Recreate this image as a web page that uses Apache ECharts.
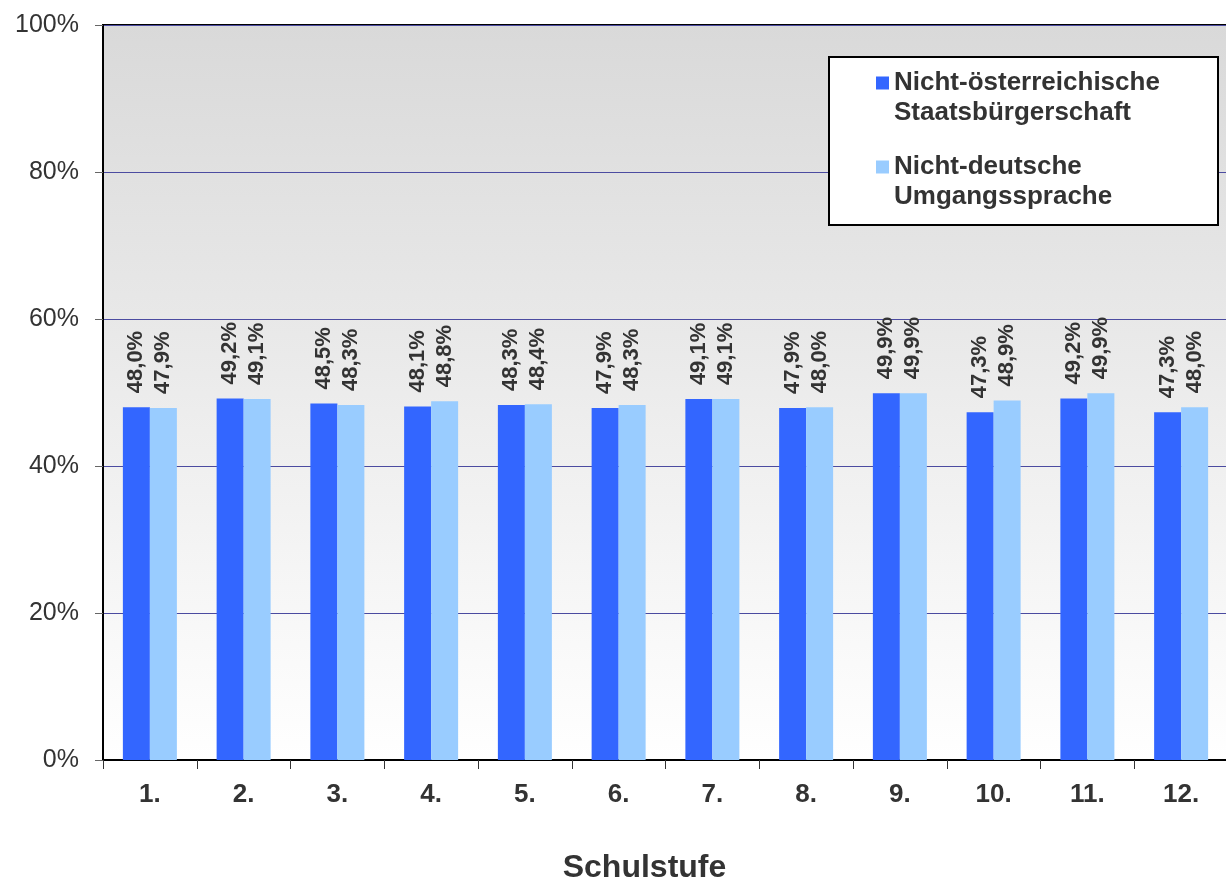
<!DOCTYPE html>
<html>
<head>
<meta charset="utf-8">
<script src="https://cdn.jsdelivr.net/npm/echarts@6/dist/echarts.min.js"></script>
<style>html,body{margin:0;padding:0;background:#fff;}#c{width:1226px;height:881px;}</style>
</head>
<body>
<div id="c"></div>
<script>
const categories = ['1.', '2.', '3.', '4.', '5.', '6.', '7.', '8.', '9.', '10.', '11.', '12.'];
const seriesNames = ['Nicht-österreichische Staatsbürgerschaft', 'Nicht-deutsche Umgangssprache'];
const legendLines = {
  'Nicht-österreichische Staatsbürgerschaft': ['Nicht-österreichische', 'Staatsbürgerschaft'],
  'Nicht-deutsche Umgangssprache': ['Nicht-deutsche', 'Umgangssprache']
};
const staatsbuerger = [48.0, 49.2, 48.5, 48.1, 48.3, 47.9, 49.1, 47.9, 49.9, 47.3, 49.2, 47.3];
const umgangssprache = [47.9, 49.1, 48.3, 48.8, 48.4, 48.3, 49.1, 48.0, 49.9, 48.9, 49.9, 48.0];
const colors = ['#3366ff', '#99ccff'];
const FONT = '"Liberation Sans", Arial, sans-serif';

const chart = echarts.init(document.getElementById('c'), null, {renderer: 'canvas'});
const labelCfg = {
  show: true,
  position: 'top',
  rotate: 90,
  align: 'left',
  verticalAlign: 'middle',
  distance: 14,
  fontFamily: FONT,
  fontWeight: 'bold',
  fontSize: 22,
  color: '#333333',
  formatter: p => p.value.toFixed(1).replace('.', ',') + '%'
};
chart.setOption({
  animation: false,
  textStyle: {fontFamily: FONT},
  grid: {
    left: 103, top: 25, width: 1125, height: 735,
    containLabel: false,
    outerBoundsMode: 'none',
    show: true,
    borderColor: '#000', borderWidth: 2,
    backgroundColor: {type: 'linear', x: 0, y: 0, x2: 0, y2: 1,
      colorStops: [{offset: 0, color: '#d9d9d9'}, {offset: 1, color: '#ffffff'}]}
  },
  legend: {
    orient: 'vertical',
    left: 876, top: 38,
    padding: 0,
    itemGap: -6,
    itemWidth: 13, itemHeight: 13,
    icon: 'rect',
    z: 10,
    textStyle: {fontFamily: FONT, fontWeight: 'bold', fontSize: 26, lineHeight: 30, color: '#333333'},
    formatter: name => ' \n' + legendLines[name].join('\n'),
    data: seriesNames
  },
  graphic: [{
    type: 'rect', left: 828, top: 56, z: 5,
    shape: {width: 389, height: 168},
    style: {fill: '#ffffff', stroke: '#000000', lineWidth: 2}
  }],
  xAxis: {
    type: 'category',
    data: categories,
    name: 'Schulstufe',
    nameLocation: 'middle',
    nameGap: 92,
    nameTextStyle: {fontFamily: FONT, fontWeight: 'bold', fontSize: 32, color: '#333333', padding: [0, 42, 0, 0]},
    axisLine: {lineStyle: {color: '#000', width: 2}},
    axisTick: {show: true, length: 9, lineStyle: {color: '#333'}},
    axisLabel: {fontFamily: FONT, fontWeight: 'bold', fontSize: 26, color: '#333333', margin: 22}
  },
  yAxis: {
    type: 'value',
    min: 0, max: 100, interval: 20,
    axisLine: {show: true, lineStyle: {color: '#000', width: 2}},
    axisTick: {show: true, length: 8, lineStyle: {color: '#666'}},
    axisLabel: {fontFamily: FONT, fontSize: 25, color: '#333333', margin: 24, formatter: '{value}%'},
    splitLine: {show: true, lineStyle: {color: '#4b4ba0', width: 1}}
  },
  series: [
    {name: seriesNames[0], type: 'bar', data: staatsbuerger, barWidth: 27, barGap: '0%',
     itemStyle: {color: colors[0]}, label: labelCfg},
    {name: seriesNames[1], type: 'bar', data: umgangssprache, barWidth: 27, barGap: '0%',
     itemStyle: {color: colors[1]}, label: labelCfg}
  ]
});
</script>
</body>
</html>
